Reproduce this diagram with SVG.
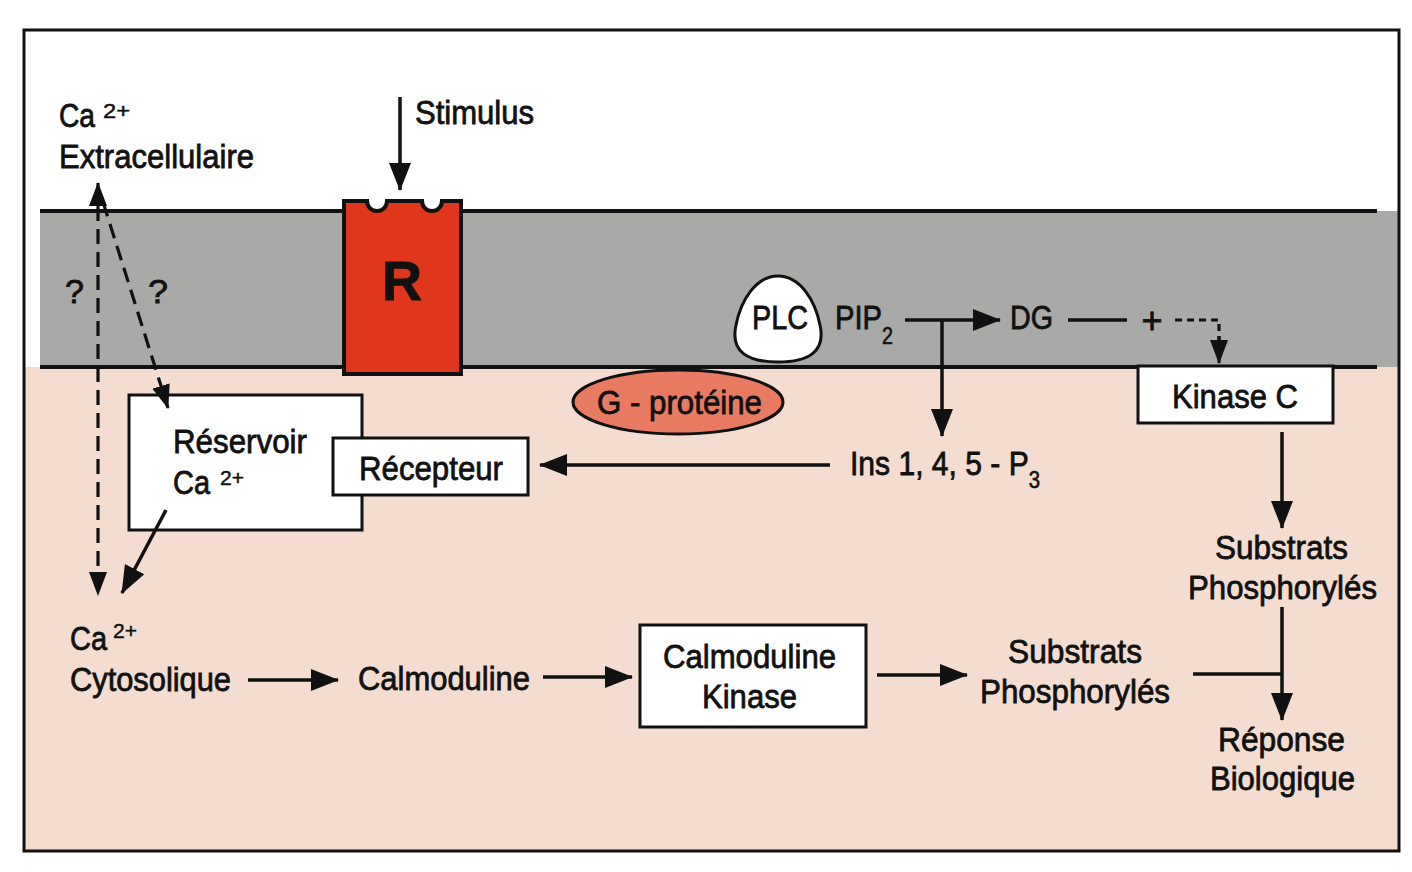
<svg xmlns="http://www.w3.org/2000/svg" width="1412" height="872" viewBox="0 0 1412 872">
<defs>
<style>
text{font-family:"Liberation Sans",Arial,sans-serif;font-size:34px;fill:#111;stroke:#111;stroke-width:0.8}
.sup{font-size:21px;stroke-width:0.5}
.sub{font-size:23px;stroke-width:0.6}
.ln{stroke:#111;stroke-width:3.5;fill:none}
.dash{stroke:#111;stroke-width:3.2;fill:none;stroke-dasharray:15 8}
.dot{stroke:#111;stroke-width:3.2;fill:none;stroke-dasharray:7 5}
.box{fill:#fff;stroke:#111;stroke-width:3}
</style>
<marker id="ah" markerUnits="userSpaceOnUse" markerWidth="28" markerHeight="22" viewBox="0 0 28 22" refX="27" refY="11" orient="auto-start-reverse">
<path d="M0,0 L28,11 L0,22 Z" fill="#111"/>
</marker>
<marker id="ahs" markerUnits="userSpaceOnUse" markerWidth="24" markerHeight="18" viewBox="0 0 24 18" refX="23" refY="9" orient="auto-start-reverse">
<path d="M0,0 L24,9 L0,18 Z" fill="#111"/>
</marker>
</defs>

<!-- background zones -->
<rect x="0" y="0" width="1412" height="872" fill="#fff"/>
<rect x="24" y="367" width="1375" height="484" fill="#f4ddd0"/>
<rect x="40" y="211" width="1359" height="156" fill="#a9a9a7"/>
<line x1="40" y1="211" x2="1377" y2="211" stroke="#111" stroke-width="4"/>
<line x1="40" y1="367" x2="1377" y2="367" stroke="#111" stroke-width="4"/>
<rect x="24" y="30" width="1375" height="821" fill="none" stroke="#111" stroke-width="3"/>

<!-- nodes -->
<g id="ca-extra">
<text x="59" y="127" textLength="36" lengthAdjust="spacingAndGlyphs">Ca</text>
<text class="sup" x="103" y="118" textLength="27" lengthAdjust="spacingAndGlyphs">2+</text>
<text x="59" y="168" textLength="195" lengthAdjust="spacingAndGlyphs">Extracellulaire</text>
</g>
<g id="stimulus">
<text x="415" y="124" textLength="119" lengthAdjust="spacingAndGlyphs">Stimulus</text>
</g>
<g id="question-marks">
<text x="65" y="303" textLength="19" lengthAdjust="spacingAndGlyphs">?</text>
<text x="148" y="303" textLength="20" lengthAdjust="spacingAndGlyphs">?</text>
</g>
<g id="receptor-R">
<path d="M344,201 H367 A10,10 0 0 0 387,201 H422 A10,10 0 0 0 442,201 H461 V374 H344 Z" fill="#e0361b" stroke="#111" stroke-width="4"/>
<text x="402" y="300" text-anchor="middle" style="font-size:56px;font-weight:bold">R</text>
</g>
<g id="plc">
<path d="M778,276 C800,276 815,300 820,325 C826,352 808,362 778,362 C748,362 730,352 736,325 C741,300 756,276 778,276 Z" fill="#fff" stroke="#111" stroke-width="3"/>
<text x="752" y="329" textLength="56" lengthAdjust="spacingAndGlyphs">PLC</text>
</g>
<g id="pip2">
<text x="835" y="329" textLength="58" lengthAdjust="spacingAndGlyphs">PIP<tspan class="sub" dy="15">2</tspan></text>
</g>
<g id="dg">
<text x="1010" y="329" textLength="43" lengthAdjust="spacingAndGlyphs">DG</text>
</g>
<g id="plus">
<text x="1152" y="333" text-anchor="middle" style="font-size:36px">+</text>
</g>
<g id="g-proteine">
<ellipse cx="678" cy="402" rx="105" ry="32" fill="#e97a62" stroke="#111" stroke-width="3"/>
<text x="597" y="414" textLength="165" lengthAdjust="spacingAndGlyphs">G - protéine</text>
</g>
<g id="kinase-c">
<rect class="box" x="1138" y="366" width="195" height="57"/>
<text x="1172" y="408" textLength="126" lengthAdjust="spacingAndGlyphs">Kinase C</text>
</g>
<g id="reservoir">
<rect class="box" x="129" y="395" width="233" height="135"/>
<text x="173" y="453" textLength="134" lengthAdjust="spacingAndGlyphs">Réservoir</text>
<text x="173" y="494" textLength="37" lengthAdjust="spacingAndGlyphs">Ca</text>
<text class="sup" x="220" y="485" textLength="24" lengthAdjust="spacingAndGlyphs">2+</text>
</g>
<g id="recepteur">
<rect class="box" x="333" y="438" width="195" height="57"/>
<text x="359" y="480" textLength="144" lengthAdjust="spacingAndGlyphs">Récepteur</text>
</g>
<g id="ip3">
<text x="850" y="475" textLength="190" lengthAdjust="spacingAndGlyphs">Ins 1, 4, 5 - P<tspan class="sub" dy="13">3</tspan></text>
</g>
<g id="ca-cyto">
<text x="70" y="650" textLength="37" lengthAdjust="spacingAndGlyphs">Ca</text>
<text class="sup" x="113" y="638" textLength="24" lengthAdjust="spacingAndGlyphs">2+</text>
<text x="70" y="691" textLength="161" lengthAdjust="spacingAndGlyphs">Cytosolique</text>
</g>
<g id="calmoduline">
<text x="358" y="690" textLength="172" lengthAdjust="spacingAndGlyphs">Calmoduline</text>
</g>
<g id="calmoduline-kinase">
<rect class="box" x="640" y="625" width="226" height="102"/>
<text x="663" y="668" textLength="173" lengthAdjust="spacingAndGlyphs">Calmoduline</text>
<text x="702" y="708" textLength="95" lengthAdjust="spacingAndGlyphs">Kinase</text>
</g>
<g id="substrats-1">
<text x="1008" y="663" textLength="134" lengthAdjust="spacingAndGlyphs">Substrats</text>
<text x="980" y="703" textLength="190" lengthAdjust="spacingAndGlyphs">Phosphorylés</text>
</g>
<g id="substrats-2">
<text x="1215" y="559" textLength="133" lengthAdjust="spacingAndGlyphs">Substrats</text>
<text x="1188" y="599" textLength="189" lengthAdjust="spacingAndGlyphs">Phosphorylés</text>
</g>
<g id="reponse">
<text x="1218" y="751" textLength="127" lengthAdjust="spacingAndGlyphs">Réponse</text>
<text x="1210" y="790" textLength="145" lengthAdjust="spacingAndGlyphs">Biologique</text>
</g>

<!-- connectors -->
<g id="connectors">
<line class="ln" x1="400" y1="97" x2="400" y2="190" marker-end="url(#ah)"/>
<line class="dash" x1="98" y1="183" x2="98" y2="595" marker-start="url(#ahs)" marker-end="url(#ahs)"/>
<line class="dash" x1="103" y1="202" x2="168" y2="408" marker-end="url(#ahs)"/>
<line class="ln" x1="166" y1="510" x2="122" y2="593" marker-end="url(#ah)"/>
<line class="ln" x1="830" y1="465" x2="540" y2="465" marker-end="url(#ah)"/>
<line class="ln" x1="905" y1="320" x2="1000" y2="320" marker-end="url(#ah)"/>
<line class="ln" x1="942" y1="320" x2="942" y2="436" marker-end="url(#ah)"/>
<line class="ln" x1="1068" y1="320" x2="1127" y2="320"/>
<path class="dot" d="M1175,320 H1219 V340"/>
<line x1="1219" y1="336" x2="1219" y2="363" stroke="#111" stroke-width="3" marker-end="url(#ahs)"/>
<line class="ln" x1="1282" y1="432" x2="1282" y2="528" marker-end="url(#ah)"/>
<line class="ln" x1="1282" y1="607" x2="1282" y2="720" marker-end="url(#ah)"/>
<line class="ln" x1="1193" y1="674" x2="1282" y2="674"/>
<line class="ln" x1="248" y1="680" x2="338" y2="680" marker-end="url(#ah)"/>
<line class="ln" x1="543" y1="677" x2="632" y2="677" marker-end="url(#ah)"/>
<line class="ln" x1="877" y1="675" x2="967" y2="675" marker-end="url(#ah)"/>
</g>
</svg>
